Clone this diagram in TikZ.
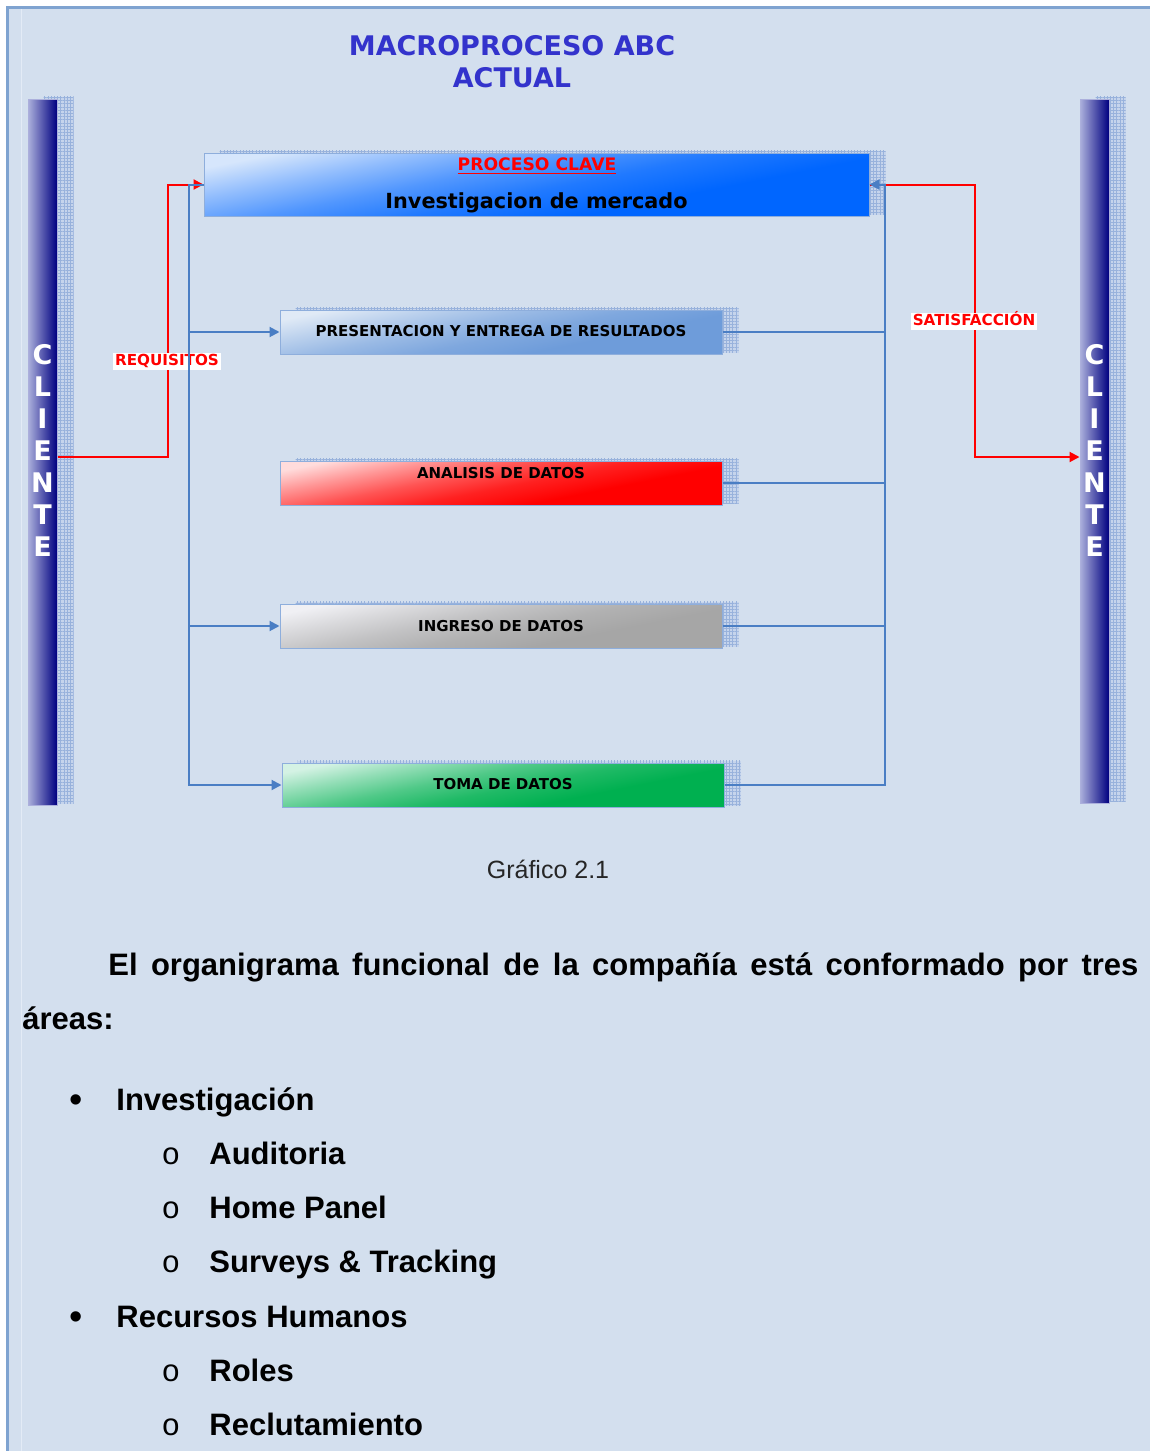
\documentclass[tikz,border=0pt]{standalone}
\usepackage{fontspec}
\setmainfont{Liberation Sans}
\newfontfamily\vfont{DejaVu Sans}
\newfontfamily\cfont{Liberation Mono}
\usetikzlibrary{arrows.meta,patterns.meta}

\definecolor{pagebg}{HTML}{D3DFEE}
\definecolor{framec}{HTML}{7FA3D0}
\definecolor{innerc}{HTML}{E3EBF6}
\definecolor{titlec}{HTML}{3333CC}
\definecolor{busc}{HTML}{4A7EC4}
\definecolor{shdbase}{HTML}{C5D4EC}
\definecolor{shdline}{HTML}{98B2DC}
\definecolor{boxedge}{HTML}{8EAEDC}
\definecolor{mainL}{HTML}{D6E6FC}
\definecolor{mainS}{HTML}{0066FF}
\definecolor{presL}{HTML}{E0EAF6}
\definecolor{presS}{HTML}{6E9CDA}
\definecolor{analL}{HTML}{FFDCDC}
\definecolor{analS}{HTML}{FF0000}
\definecolor{ingL}{HTML}{F0F0F4}
\definecolor{ingS}{HTML}{A6A6A6}
\definecolor{tomaL}{HTML}{D4F2E4}
\definecolor{tomaS}{HTML}{00B050}
\definecolor{barL}{HTML}{ACB0DC}
\definecolor{barM}{HTML}{34369C}
\definecolor{barD}{HTML}{000080}

% box fill: pale top-left corner fading into the saturated colour
\newcommand\boxshading[3]{%
  \pgfdeclareverticalshading{#1}{100bp}{color(0bp)=(#3); color(38bp)=(#3);
    color(48bp)=(#2!15!#3); color(57bp)=(#2!38!#3); color(66bp)=(#2!68!#3);
    color(75bp)=(#2); color(100bp)=(#2)}}
\boxshading{shMain}{mainL}{mainS}
\boxshading{shPres}{presL}{presS}
\boxshading{shAnal}{analL}{analS}
\boxshading{shIng}{ingL}{ingS}
\boxshading{shToma}{tomaL}{tomaS}

\pgfdeclarelayer{back}
\pgfdeclarelayer{shadow}
\pgfsetlayers{back,shadow,main}

\begin{document}
\begin{tikzpicture}[x=0.5pt,y=-0.5pt,
  procbox/.style={rectangle,draw=boxedge,line width=0.5pt,inner sep=0pt,shade,shading angle=11.3},
  bartall/.style={rectangle,draw=barL,line width=0.5pt,inner sep=0pt,
    left color=barL,middle color=barM,right color=barD,minimum width=14.5pt},
  barletters/.style={font=\vfont\bfseries\fontsize{13.5pt}{16pt}\selectfont,text=white,
    align=center,inner sep=0pt},
  titletext/.style={font=\vfont\bfseries\fontsize{13.5pt}{16pt}\selectfont,text=titlec,
    anchor=base,inner sep=0pt},
  boxtext/.style={font=\vfont\bfseries\fontsize{7.5pt}{9pt}\selectfont,anchor=base,inner sep=0pt},
  flowlabel/.style={font=\vfont\bfseries\fontsize{7.6pt}{9pt}\selectfont,text=red,fill=white,
    anchor=base,inner sep=1pt,text height=5.5pt,text depth=1.2pt},
  shadowfill/.style={preaction={fill=shdbase},pattern={Hatch[distance=1.6pt,line width=0.35pt]},
    pattern color=shdline},
  bus/.style={draw=busc,line width=1pt},
  reqline/.style={draw=red,line width=1pt},
  arrowend/.style={-{Triangle[length=5pt,width=5pt]}},
  body/.style={font=\bfseries\fontsize{15.5pt}{18pt}\selectfont,anchor=base west,inner sep=0pt},
  bulletmark/.style={font=\fontsize{19pt}{20pt}\selectfont,anchor=base,inner sep=0pt},
  circmark/.style={font=\cfont\fontsize{15.5pt}{18pt}\selectfont,anchor=base,inner sep=0pt}]

\useasboundingbox (0,0) rectangle (1150,1451);

% page background and frame
\begin{pgfonlayer}{back}
  \fill[pagebg] (7,7) rectangle (1150,1451);
  \draw[framec,line width=1.5pt] (7.5,1451) -- (7.5,7.5) -- (1150,7.5);
  \draw[innerc,line width=0.5pt] (21,9) -- (21,1451);
\end{pgfonlayer}

% title
\node[titletext] (t1) at (512,55) {MACROPROCESO ABC};
\node[titletext] (t2) at (512,87) {ACTUAL};

% client bars
\node[bartall,minimum height=353pt] (cliL) at (42.5,452) {};
\node[bartall,minimum height=352pt] (cliR) at (1094.5,451) {};
\node[barletters] (cliLt) at (42.5,450.5) {C\\L\\I\\E\\N\\T\\E};
\node[barletters] (cliRt) at (1094.5,450.5) {C\\L\\I\\E\\N\\T\\E};

% process boxes
\node[procbox,shading=shMain,minimum width=332.5pt,minimum height=31.5pt] (main) at (536.5,184.5) {};
\node[procbox,shading=shPres,minimum width=221pt,minimum height=22pt] (pres) at (501,332) {};
\node[procbox,shading=shAnal,minimum width=221pt,minimum height=22pt] (anal) at (501,483) {};
\node[procbox,shading=shIng,minimum width=221pt,minimum height=22pt] (ing) at (501,626) {};
\node[procbox,shading=shToma,minimum width=221pt,minimum height=22pt] (toma) at (503,785) {};

\node[boxtext,text=red,font=\vfont\bfseries\fontsize{8.6pt}{10pt}\selectfont] (mainTag) at (537,170) {\underline{PROCESO CLAVE}};
\node[boxtext,font=\vfont\bfseries\fontsize{10.4pt}{12pt}\selectfont] (mainLbl) at (536.5,208.5) {Investigacion de mercado};
\node[boxtext] (presLbl) at (501,336.5) {PRESENTACION Y ENTREGA DE RESULTADOS};
\node[boxtext] (analLbl) at (501,478.5) {ANALISIS DE DATOS};
\node[boxtext] (ingLbl) at (501,631.5) {INGRESO DE DATOS};
\node[boxtext] (tomaLbl) at (503,789.5) {TOMA DE DATOS};

% box shadows
\begin{pgfonlayer}{shadow}
  \foreach \n in {main,pres,anal,ing,toma,cliL,cliR}
    \path[shadowfill] ([xshift=8pt,yshift=1pt]\n.south west) rectangle ([xshift=8pt,yshift=1pt]\n.north east);
\end{pgfonlayer}

% client flows
\coordinate (rqTurn) at (168,457);
\coordinate (satTurn) at (975,457);
\draw[reqline,arrowend] (cliL.east |- rqTurn) -- (rqTurn) |- (main.west);
\draw[reqline,arrowend] (main.east) -| (satTurn) -- (cliR.west |- satTurn);
\node[flowlabel] (req) at (167,365.5) {REQUISITOS};
\node[flowlabel] (sat) at (974,325.5) {SATISFACCIÓN};

% process buses
\coordinate (busL) at (189,0);
\coordinate (busR) at (885,0);
\draw[bus,arrowend] (main.west) -- (busL |- main.west) -- (busL |- toma.west) -- (toma.west);
\draw[bus,arrowend] (busL |- pres.west) -- (pres.west);
\draw[bus,arrowend] (busL |- ing.west) -- (ing.west);
\draw[bus,arrowend] (toma.east) -- (busR |- toma.east) -- (busR |- main.east) -- (main.east);
\draw[bus] (pres.east) -- (busR |- pres.east);
\draw[bus] (anal.east) -- (busR |- anal.east);
\draw[bus] (ing.east) -- (busR |- ing.east);

% caption and text
\node[font=\fontsize{12.5pt}{15pt}\selectfont,text=black!85,anchor=base,inner sep=0pt] (cap) at (548,878) {Gráfico 2.1};
\node[body] (p1) at (108,975) {\makebox[515pt][s]{El organigrama funcional de la compañía está conformado por tres}};
\node[body] (p2) at (22,1029) {áreas:};

\node[bulletmark] (m1) at (76,1112) {•};
\node[body] (i1) at (116,1110) {Investigación};
\node[circmark] (m11) at (171,1164) {o};
\node[body] (i11) at (209,1164) {Auditoria};
\node[circmark] (m12) at (171,1218) {o};
\node[body] (i12) at (209,1218) {Home Panel};
\node[circmark] (m13) at (171,1272) {o};
\node[body] (i13) at (209,1272) {Surveys \& Tracking};
\node[bulletmark] (m2) at (76,1329) {•};
\node[body] (i2) at (116,1327) {Recursos Humanos};
\node[circmark] (m21) at (171,1381) {o};
\node[body] (i21) at (209,1381) {Roles};
\node[circmark] (m22) at (171,1435) {o};
\node[body] (i22) at (209,1435) {Reclutamiento};
\end{tikzpicture}
\end{document}
